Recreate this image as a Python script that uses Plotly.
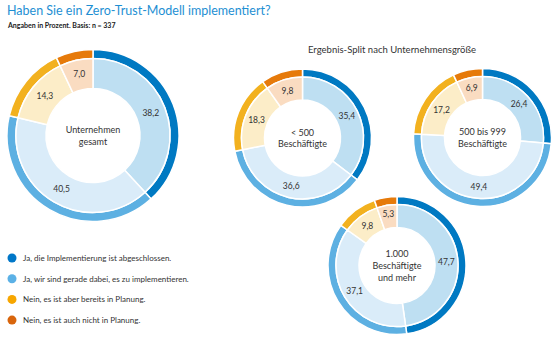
import plotly.graph_objects as go

W, H = 554, 338

categories = [
    "Ja, die Implementierung ist abgeschlossen.",
    "Ja, wir sind gerade dabei, es zu implementieren.",
    "Nein, es ist aber bereits in Planung.",
    "Nein, es ist auch nicht in Planung.",
]
groups = ["Unternehmen<br>gesamt", "< 500<br>Beschäftigte", "500 bis 999<br>Beschäftigte",
          "1.000<br>Beschäftigte<br>und mehr"]
vals_gesamt = [38.2, 40.5, 14.3, 7.0]
vals_lt500 = [35.4, 36.6, 18.3, 9.8]
vals_500_999 = [26.4, 49.4, 17.2, 6.9]
vals_1000 = [47.7, 37.1, 9.8, 5.3]
series = [vals_gesamt, vals_lt500, vals_500_999, vals_1000]

outer_colors = ["#0079C2", "#5DB0E2", "#F2B11F", "#E67A0A"]
inner_colors = ["#BEDFF2", "#DAECF9", "#FCEDC8", "#FADCC1"]
legend_colors = ["#0077C8", "#5BB1E6", "#F7A600", "#D8650C"]

# layout geometry (px): center x, center y, outer radius, outer ring width, hole radius
geom = [
    (93, 135.5, 86, 9, 47),
    (302.5, 138, 69, 8, 38),
    (482.5, 137.5, 69, 8, 38),
    (397, 265.5, 69, 8, 38),
]

FONT = "Lato"
TXT = "#333333"

def dom(cx, cy, r):
    return dict(x=[(cx - r) / W, (cx + r) / W], y=[1 - (cy + r) / H, 1 - (cy - r) / H])

fig = go.Figure()
for (cx, cy, R, ring, hr), vals, name in zip(geom, series, groups):
    # outer thin ring
    fig.add_trace(go.Pie(
        values=vals, labels=categories, sort=False, direction="clockwise", rotation=0,
        domain=dom(cx, cy, R), hole=(R - ring) / R,
        marker=dict(colors=outer_colors, line=dict(color="white", width=1.5)),
        textinfo="none", hoverinfo="skip", showlegend=False,
    ))
    rin = R - ring
    fig.add_trace(go.Pie(
        values=vals, labels=categories, sort=False, direction="clockwise", rotation=0,
        domain=dom(cx, cy, rin), hole=hr / rin,
        marker=dict(colors=inner_colors, line=dict(color="white", width=1.5)),
        text=[f"{v:.1f}".replace(".", ",") for v in vals], textinfo="text",
        textposition="inside", insidetextorientation="horizontal",
        textfont=dict(family=FONT, size=8.5, color=TXT),
        title=dict(text=name, position="middle center", font=dict(family=FONT, size=9, color=TXT)),
        hoverinfo="skip", showlegend=False,
    ))

# custom legend
leg_y0, leg_step = 258, 20.7
fig.add_trace(go.Scatter(
    x=[12] * len(categories), y=[leg_y0 + i * leg_step for i in range(len(categories))],
    mode="markers", marker=dict(size=9, color=legend_colors),
    hoverinfo="skip", showlegend=False,
))
for i, c in enumerate(categories):
    fig.add_annotation(x=21, y=leg_y0 + i * leg_step, xref="x", yref="y", text=c,
                       showarrow=False, xanchor="left", yanchor="middle",
                       font=dict(family=FONT, size=8, color=TXT))

fig.add_annotation(x=5 / W, y=1 - 10 / H, xref="paper", yref="paper",
                   text="Haben Sie ein Zero-Trust-Modell implementiert?", showarrow=False,
                   xanchor="left", yanchor="middle", font=dict(family=FONT, size=12.5, color="#1E8FD3"))
fig.add_annotation(x=5 / W, y=1 - 25 / H, xref="paper", yref="paper",
                   text="<b>Angaben in Prozent. Basis: n = 337</b>", showarrow=False,
                   xanchor="left", yanchor="middle", font=dict(family=FONT, size=7, color="#222222"))
fig.add_annotation(x=392 / W, y=1 - 50 / H, xref="paper", yref="paper",
                   text="Ergebnis-Split nach Unternehmensgröße", showarrow=False,
                   xanchor="center", yanchor="middle", font=dict(family=FONT, size=9.5, color=TXT))

fig.update_layout(
    width=W, height=H, margin=dict(l=0, r=0, t=0, b=0),
    paper_bgcolor="white", plot_bgcolor="white",
    xaxis=dict(range=[0, W], visible=False, fixedrange=True, domain=[0, 1]),
    yaxis=dict(range=[H, 0], visible=False, fixedrange=True, domain=[0, 1]),
    showlegend=False,
)
fig.write_html("out.html")
